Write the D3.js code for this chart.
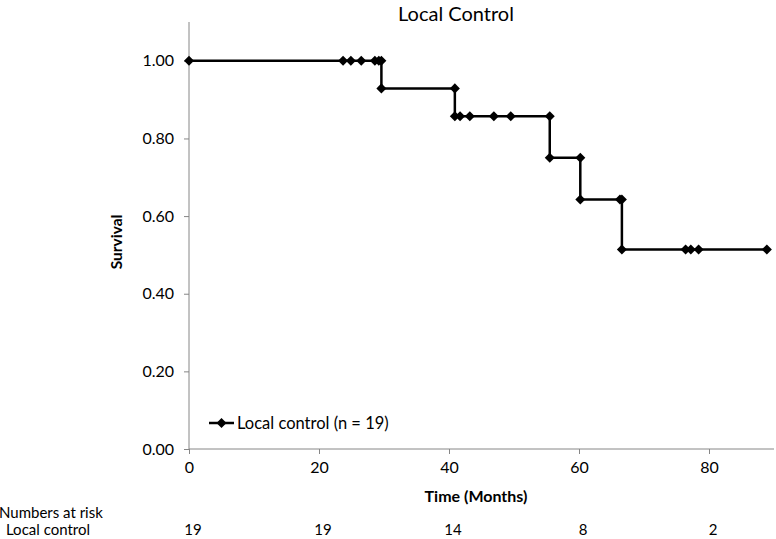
<!DOCTYPE html>
<html><head><meta charset="utf-8">
<script src="https://cdn.jsdelivr.net/npm/d3@7"></script>
<style>body{margin:0;background:#fff}svg{display:block}text{font-family:Lato,"Open Sans",sans-serif}</style>
</head><body><div id="chart"></div>
<script>
const times = [0,23.7,24.9,26.5,28.6,29.2,29.6,29.6,40.9,40.9,41.7,43.2,46.9,49.5,55.5,55.5,60.2,60.2,66.3,66.6,66.6,76.4,77.2,78.4,88.9];
const survival = [1,1,1,1,1,1,1,0.929,0.929,0.857,0.857,0.857,0.857,0.857,0.857,0.75,0.75,0.643,0.643,0.643,0.514,0.514,0.514,0.514,0.514];
const xTicks = [0,20,40,60,80];
const yTicks = [0,0.2,0.4,0.6,0.8,1.0];
const riskTimes = [0,20,40,60,80];
const riskCounts = [19,19,14,8,2];
const seriesName = "Local control (n = 19)";

const W=776,H=539;
const svg=d3.select("#chart").append("svg").attr("width",W).attr("height",H);
const x=d3.scaleLinear().domain([0,90]).range([189,774]);
const y=d3.scaleLinear().domain([0,1.1]).range([449,22]);
const axisCol="#868686";

// axes
const xa=svg.append("g").attr("transform","translate(0,"+y(0)+")")
  .call(d3.axisBottom(x).tickValues(xTicks).tickSize(5).tickPadding(8).tickFormat(d3.format("d")));
const ya=svg.append("g").attr("transform","translate("+x(0)+",0)")
  .call(d3.axisLeft(y).tickValues(yTicks).tickSize(5).tickPadding(10).tickFormat(d3.format(".2f")));
[xa,ya].forEach(g=>{
  g.select(".domain").attr("stroke",axisCol).attr("stroke-width",1);
  g.selectAll(".tick line").attr("stroke",axisCol);
  g.selectAll(".tick text").attr("fill","#000").style("font-size","16px").style("font-family","Lato");
});
ya.select(".domain").attr("d","M0,"+y(1.1)+"V"+y(0));
xa.select(".domain").attr("d","M"+x(0)+",0H"+x(90));

// series
const pts=times.map((t,i)=>[t,survival[i]]);
svg.append("path").datum(pts).attr("fill","none").attr("stroke","#000").attr("stroke-width",2.5)
  .attr("d",d3.line().x(d=>x(d[0])).y(d=>y(d[1])));
const sym=d3.symbol().type(d3.symbolDiamond2).size(64);
svg.append("g").selectAll("path").data(pts).join("path")
  .attr("transform",d=>"translate("+x(d[0])+","+y(d[1])+")").attr("d",sym).attr("fill","#000");

// title & labels
svg.append("text").attr("x",456).attr("y",21).attr("text-anchor","middle").style("font-size","20px").text("Local Control");
svg.append("text").attr("x",476).attr("y",502).attr("text-anchor","middle").style("font-size","16px").style("font-weight","bold").text("Time (Months)");
svg.append("text").attr("transform","translate(122,242) rotate(-90)").attr("text-anchor","middle").style("font-size","15.5px").style("font-weight","bold").text("Survival");

// legend
svg.append("line").attr("x1",209).attr("x2",234).attr("y1",423).attr("y2",423).attr("stroke","#000").attr("stroke-width",2.5);
svg.append("path").attr("transform","translate(221.5,423)").attr("d",sym).attr("fill","#000");
svg.append("text").attr("x",237).attr("y",429).style("font-size","16.5px").text(seriesName);

// numbers at risk
svg.append("text").attr("x",-1).attr("y",518).style("font-size","15px").text("Numbers at risk");
svg.append("text").attr("x",90).attr("y",535).attr("text-anchor","end").style("font-size","15px").text("Local control");
svg.append("g").selectAll("text").data(riskTimes).join("text")
  .attr("x",(d)=>x(d)+4).attr("y",535).attr("text-anchor","middle").style("font-size","15px")
  .text((d,i)=>riskCounts[i]);
</script></body></html>
